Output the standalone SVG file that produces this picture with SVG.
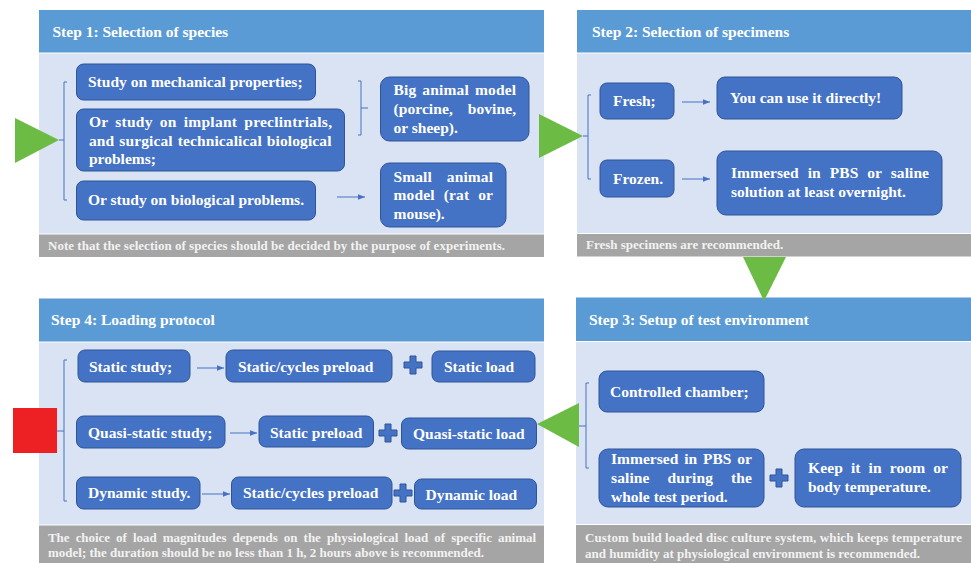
<svg xmlns="http://www.w3.org/2000/svg" width="971" height="563" viewBox="0 0 971 563">
<defs>
<style>
.hdr{fill:#5B9BD5}
.body{fill:#DAE3F3}
.note{fill:#A5A5A5}
.node{fill:#4472C4;stroke:#2F5597;stroke-width:1}
.t{font-family:"Liberation Serif","Times New Roman",serif;font-weight:bold;font-size:15.5px;fill:#FFFFFF}
.nt{font-family:"Liberation Serif","Times New Roman",serif;font-weight:bold;font-size:13px;fill:#F2F2F2}
.ln{fill:none;stroke:#4472C4;stroke-width:1}
.tri{fill:#6CBB45}
.plus{fill:#4472C4;stroke:#2F5597;stroke-width:1}
</style>
<marker id="ah" viewBox="0 0 10 10" refX="10" refY="5" markerWidth="7" markerHeight="7" orient="auto" markerUnits="userSpaceOnUse">
<path d="M0,1 L10,5 L0,9 z" fill="#4472C4"/>
</marker>
<path id="pl" d="M-3,-9 H3 V-3 H9 V3 H3 V9 H-3 V3 H-9 V-3 H-3 Z"/>
</defs>
<rect width="971" height="563" fill="#FFFFFF"/>

<!-- Panels -->
<g id="panel1">
<rect class="hdr" x="39" y="10" width="505" height="42.5"/>
<rect class="body" x="39" y="53.5" width="505" height="180"/>
<rect class="note" x="39" y="234.5" width="505" height="22.5"/>
<text class="t" x="52.5" y="37">Step 1: Selection of species</text>
<text class="nt" x="48" y="250" textLength="457">Note that the selection of species should be decided by the purpose of experiments.</text>
</g>
<g id="panel2">
<rect class="hdr" x="577" y="10" width="394" height="42.5"/>
<rect class="body" x="577" y="53.5" width="394" height="179.5"/>
<rect class="note" x="577" y="234" width="394" height="22.5"/>
<text class="t" x="592" y="37">Step 2: Selection of specimens</text>
<text class="nt" x="586" y="249">Fresh specimens are recommended.</text>
</g>
<g id="panel3">
<rect class="hdr" x="576" y="297.5" width="395" height="43.5"/>
<rect class="body" x="576" y="342" width="395" height="182"/>
<rect class="note" x="576" y="525" width="395" height="38"/>
<text class="t" x="589" y="325">Step 3: Setup of test environment</text>
<text class="nt" x="585" y="542" textLength="377">Custom build loaded disc culture system, which keeps temperature</text>
<text class="nt" x="585" y="558">and humidity at physiological environment is recommended.</text>
</g>
<g id="panel4">
<rect class="hdr" x="39" y="298.5" width="505" height="43"/>
<rect class="body" x="39" y="342.5" width="505" height="182"/>
<rect class="note" x="39" y="525.5" width="505" height="37.5"/>
<text class="t" x="51" y="325">Step 4: Loading protocol</text>
<text class="nt" x="48" y="542" textLength="488" style="word-spacing:3px">The choice of load magnitudes depends on the physiological load of specific animal</text>
<text class="nt" x="48" y="557">model; the duration should be no less than 1 h, 2 hours above is recommended.</text>
</g>

<!-- Step markers -->
<g id="markers">
<polygon class="tri" points="15,118 15,163 59,140"/>
<polygon class="tri" points="539,114 539,158 583,136"/>
<polygon class="tri" points="743,257 786,257 764,301"/>
<polygon class="tri" points="579,403 579,447 537,424"/>
<rect x="13" y="408" width="44" height="45" fill="#ED2024"/>
</g>

<!-- Connectors -->
<g id="connectors">
<path class="ln" d="M67,82 H64 V200 H67 M59,140 H64"/>
<path class="ln" d="M358,81 H361 V135 H358 M361,108 H368"/>
<path class="ln" d="M337,197 H365" marker-end="url(#ah)"/>
<path class="ln" d="M591,95 H588 V179 H591 M583,136 H588"/>
<path class="ln" d="M682,102 H710" marker-end="url(#ah)"/>
<path class="ln" d="M682,179 H710" marker-end="url(#ah)"/>
<path class="ln" d="M589,383 H586 V468 H589 M579,426 H586"/>
<path class="ln" d="M67,360 H64 V501 H67 M57,431 H64"/>
<path class="ln" d="M197,368 H224" marker-end="url(#ah)"/>
<path class="ln" d="M230,433 H257" marker-end="url(#ah)"/>
<path class="ln" d="M202,494 H230" marker-end="url(#ah)"/>
<use href="#pl" class="plus" x="413" y="365"/>
<use href="#pl" class="plus" x="388" y="433"/>
<use href="#pl" class="plus" x="403" y="493"/>
<use href="#pl" class="plus" x="779" y="478"/>
</g>

<!-- Step 1 nodes -->
<g id="n1a"><rect class="node" x="76.5" y="64" width="239" height="36" rx="7"/>
<text class="t" x="88" y="87">Study on mechanical properties;</text></g>
<g id="n1b"><rect class="node" x="76.5" y="109" width="268" height="62" rx="7"/>
<text class="t" x="89" y="127" textLength="243" style="word-spacing:3px">Or study on implant preclintrials,</text>
<text class="t" x="89" y="146" textLength="242.5" style="word-spacing:1px">and surgical technicalical biological</text>
<text class="t" x="89" y="164">problems;</text></g>
<g id="n1c"><rect class="node" x="76.5" y="181" width="239" height="39" rx="7"/>
<text class="t" x="88" y="205">Or study on biological problems.</text></g>
<g id="n1d"><rect class="node" x="380.5" y="77" width="148.5" height="64" rx="9"/>
<text class="t" x="393.5" y="95" textLength="122.5" style="word-spacing:2px">Big animal model</text>
<text class="t" x="393.5" y="114" textLength="122.5" style="word-spacing:11px">(porcine, bovine,</text>
<text class="t" x="393.5" y="133">or sheep).</text></g>
<g id="n1e"><rect class="node" x="380.5" y="163" width="125.5" height="64" rx="9"/>
<text class="t" x="393.5" y="182" textLength="99.5" style="word-spacing:11px">Small animal</text>
<text class="t" x="393.5" y="200" textLength="99.5" style="word-spacing:5px">model (rat or</text>
<text class="t" x="393.5" y="219">mouse).</text></g>

<!-- Step 2 nodes -->
<g id="n2a"><rect class="node" x="600" y="83" width="74" height="36" rx="7"/>
<text class="t" x="613" y="106">Fresh;</text></g>
<g id="n2b"><rect class="node" x="717" y="77" width="185" height="42" rx="8"/>
<text class="t" x="730" y="103">You can use it directly!</text></g>
<g id="n2c"><rect class="node" x="600" y="160" width="74" height="37" rx="7"/>
<text class="t" x="613" y="184">Frozen.</text></g>
<g id="n2d"><rect class="node" x="717" y="151" width="225" height="64" rx="9"/>
<text class="t" x="731" y="178" textLength="198" style="word-spacing:5px">Immersed in PBS or saline</text>
<text class="t" x="731" y="197">solution at least overnight.</text></g>

<!-- Step 3 nodes -->
<g id="n3a"><rect class="node" x="599" y="371" width="165" height="41" rx="8"/>
<text class="t" x="610" y="397">Controlled chamber;</text></g>
<g id="n3b"><rect class="node" x="599" y="449" width="165" height="58" rx="9"/>
<text class="t" x="611" y="464" textLength="141" style="word-spacing:2px">Immersed in PBS or</text>
<text class="t" x="611" y="483" textLength="141" style="word-spacing:14px">saline during the</text>
<text class="t" x="611" y="502">whole test period.</text></g>
<g id="n3c"><rect class="node" x="795" y="449" width="166" height="58" rx="9"/>
<text class="t" x="808" y="473" textLength="140" style="word-spacing:4px">Keep it in room or</text>
<text class="t" x="808" y="492">body temperature.</text></g>

<!-- Step 4 nodes -->
<g id="n4a"><rect class="node" x="78" y="350" width="112" height="32" rx="7"/>
<text class="t" x="89" y="372">Static study;</text></g>
<g id="n4b"><rect class="node" x="226" y="350" width="166" height="32" rx="7"/>
<text class="t" x="238" y="372">Static/cycles preload</text></g>
<g id="n4c"><rect class="node" x="432" y="351" width="103" height="31" rx="7"/>
<text class="t" x="444" y="372">Static load</text></g>
<g id="n4d"><rect class="node" x="76.5" y="416" width="148.5" height="32" rx="7"/>
<text class="t" x="88" y="438">Quasi-static study;</text></g>
<g id="n4e"><rect class="node" x="259" y="416" width="114.5" height="31" rx="7"/>
<text class="t" x="270" y="438">Static preload</text></g>
<g id="n4f"><rect class="node" x="401.5" y="418" width="135" height="31" rx="7"/>
<text class="t" x="413" y="439">Quasi-static load</text></g>
<g id="n4g"><rect class="node" x="76.5" y="477" width="123.5" height="32" rx="7"/>
<text class="t" x="88" y="498">Dynamic study.</text></g>
<g id="n4h"><rect class="node" x="231.5" y="477" width="160.5" height="32" rx="7"/>
<text class="t" x="243" y="498">Static/cycles preload</text></g>
<g id="n4i"><rect class="node" x="414.5" y="479" width="122" height="30" rx="7"/>
<text class="t" x="425.5" y="500">Dynamic load</text></g>
</svg>
